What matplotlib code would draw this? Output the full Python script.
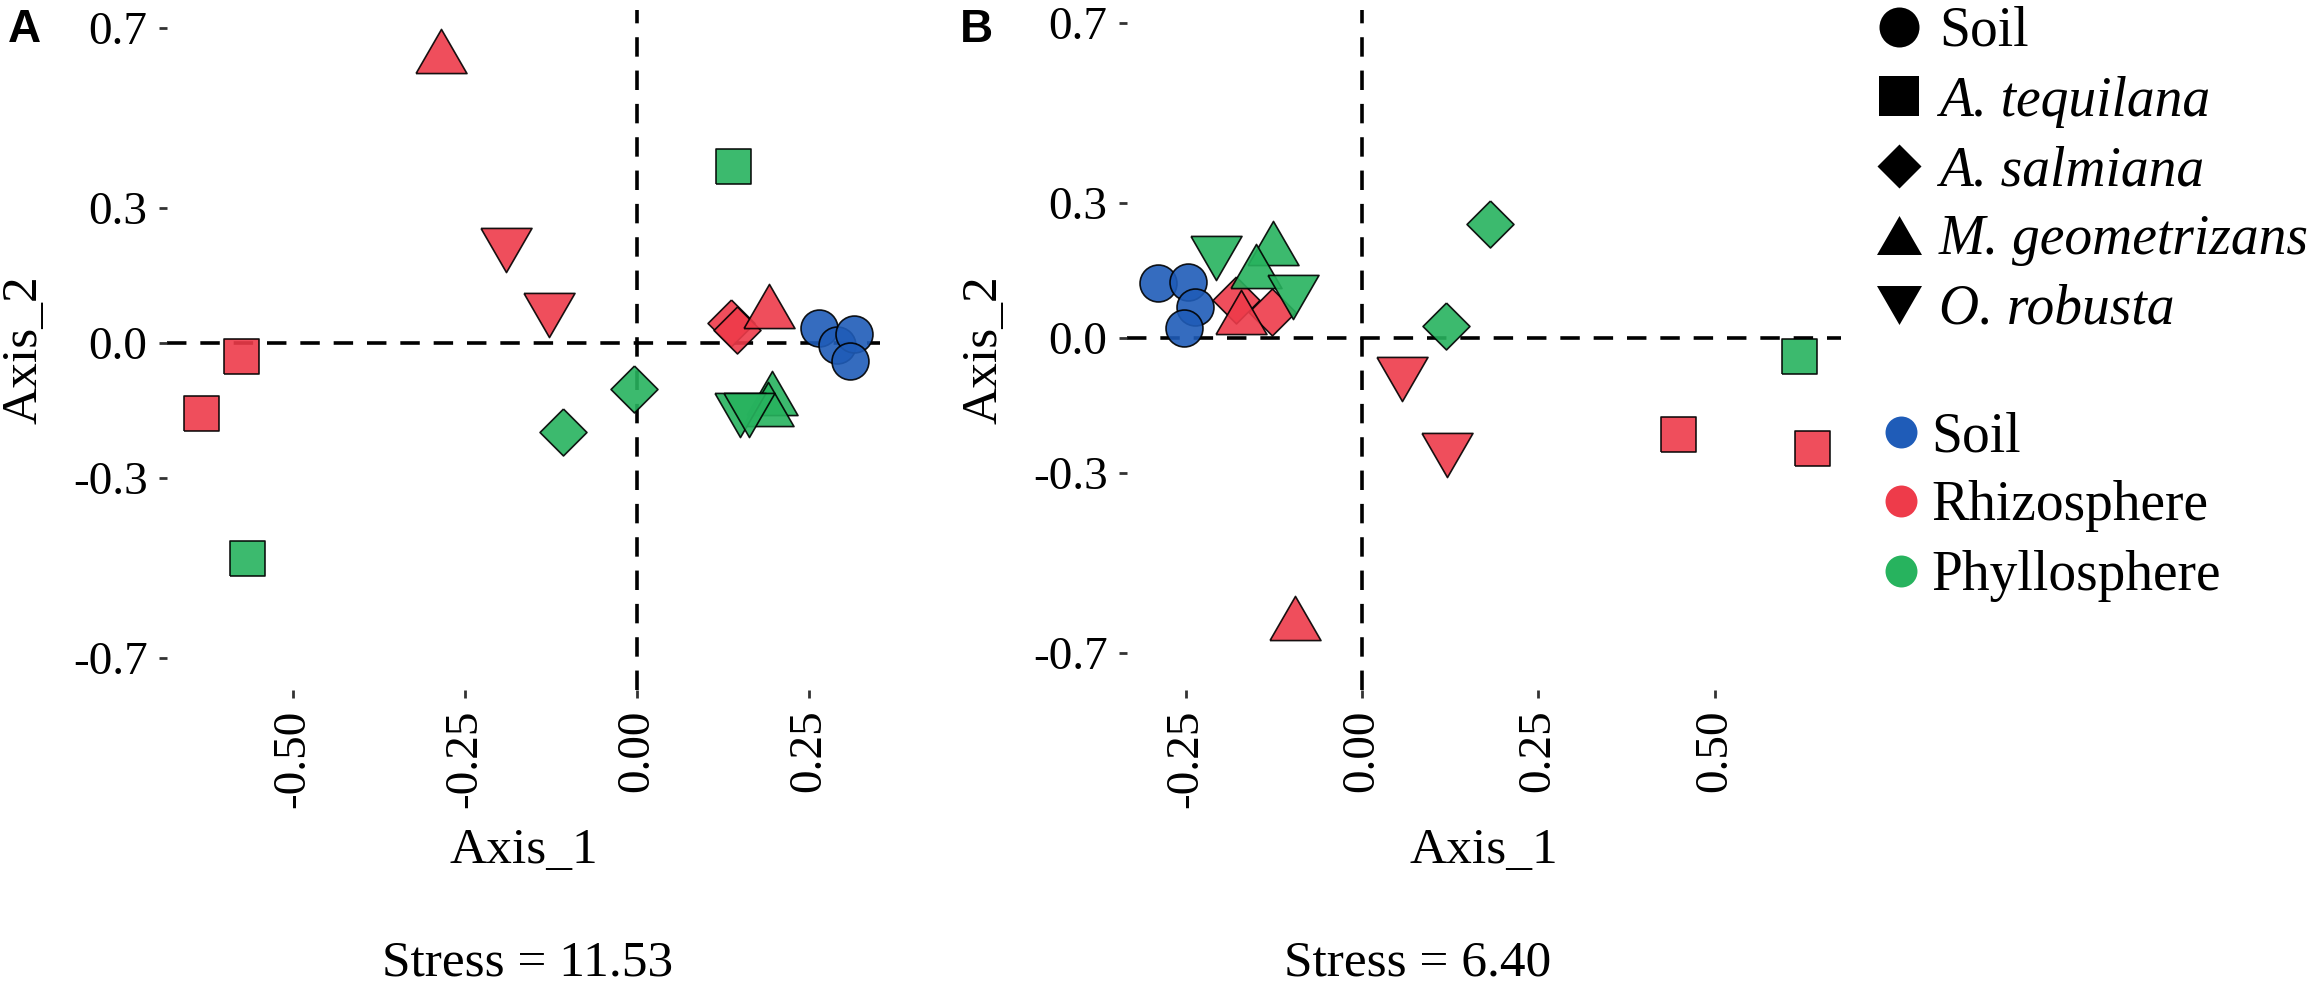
import matplotlib
matplotlib.use('Agg')
import matplotlib.pyplot as plt
from matplotlib.lines import Line2D

plt.rcParams['font.family'] = 'Liberation Serif'
plt.rcParams['axes.unicode_minus'] = False
plt.rcParams['lines.scale_dashes'] = False

species = ['Soil', 'A. tequilana', 'A. salmiana', 'M. geometrizans', 'O. robusta']
niches = ['Soil', 'Rhizosphere', 'Phyllosphere']
niche_colors = {'Soil': '#1f5cb8', 'Rhizosphere': '#ee3b4a', 'Phyllosphere': '#27b35e'}

# panel A, NMDS coordinates
a_species = ['Soil', 'Soil', 'Soil', 'Soil',
             'A. tequilana', 'A. tequilana', 'A. tequilana', 'A. tequilana',
             'A. salmiana', 'A. salmiana', 'A. salmiana', 'A. salmiana',
             'M. geometrizans', 'M. geometrizans', 'M. geometrizans', 'M. geometrizans',
             'O. robusta', 'O. robusta', 'O. robusta', 'O. robusta']
a_niche = ['Soil', 'Soil', 'Soil', 'Soil',
           'Rhizosphere', 'Rhizosphere', 'Phyllosphere', 'Phyllosphere',
           'Rhizosphere', 'Rhizosphere', 'Phyllosphere', 'Phyllosphere',
           'Rhizosphere', 'Rhizosphere', 'Phyllosphere', 'Phyllosphere',
           'Rhizosphere', 'Rhizosphere', 'Phyllosphere', 'Phyllosphere']
a_x = [0.265, 0.290, 0.315, 0.310,
       -0.576, -0.634, -0.567, 0.140,
       0.137, 0.145, -0.107, -0.004,
       -0.285, 0.192, 0.196, 0.190,
       -0.190, -0.128, 0.150, 0.163]
a_y = [0.033, -0.005, 0.020, -0.040,
       -0.029, -0.156, -0.478, 0.393,
       0.045, 0.030, -0.197, -0.102,
       0.649, 0.083, -0.111, -0.135,
       0.207, 0.062, -0.160, -0.160]

# panel B
b_species = ['Soil', 'Soil', 'Soil', 'Soil',
             'A. tequilana', 'A. tequilana', 'A. tequilana',
             'A. salmiana', 'A. salmiana', 'A. salmiana', 'A. salmiana',
             'M. geometrizans', 'M. geometrizans', 'M. geometrizans', 'M. geometrizans',
             'O. robusta', 'O. robusta', 'O. robusta', 'O. robusta']
b_niche = ['Soil', 'Soil', 'Soil', 'Soil',
           'Rhizosphere', 'Rhizosphere', 'Phyllosphere',
           'Rhizosphere', 'Rhizosphere', 'Phyllosphere', 'Phyllosphere',
           'Rhizosphere', 'Rhizosphere', 'Phyllosphere', 'Phyllosphere',
           'Rhizosphere', 'Rhizosphere', 'Phyllosphere', 'Phyllosphere']
b_x = [-0.289, -0.247, -0.237, -0.252,
       0.448, 0.638, 0.620,
       -0.178, -0.128, 0.182, 0.119,
       -0.172, -0.095, -0.126, -0.150,
       0.057, 0.121, -0.207, -0.098]
b_y = [0.122, 0.124, 0.069, 0.022,
       -0.214, -0.245, -0.040,
       0.084, 0.058, 0.253, 0.027,
       0.058, -0.622, 0.211, 0.160,
       -0.090, -0.259, 0.178, 0.091]

a_xticks = [-0.50, -0.25, 0.00, 0.25]
b_xticks = [-0.25, 0.00, 0.25, 0.50]
yticks = [-0.7, -0.3, 0.0, 0.3, 0.7]

# marker shapes (custom paths get scaled so the widest extent = size)
shapes = {
    'Soil': 'o',
    'A. tequilana': [(-1, -1), (1, -1), (1, 1), (-1, 1), (-1, -1)],
    'A. salmiana': [(0, 1), (1, 0), (0, -1), (-1, 0), (0, 1)],
    'M. geometrizans': [(-1, -0.866), (1, -0.866), (0, 0.866), (-1, -0.866)],
    'O. robusta': [(-1, 0.866), (1, 0.866), (0, -0.866), (-1, 0.866)],
}
sizes = {'Soil': 26.6, 'A. tequilana': 25.2, 'A. salmiana': 33.8,
         'M. geometrizans': 36.7, 'O. robusta': 36.7}


def draw_panel(ax, xs, ys, sp, nc, xticks, xlim, ylim):
    ax.axhline(0, color='black', lw=2.6, ls=(0, (14, 10)), zorder=1)
    ax.axvline(0, color='black', lw=2.6, ls=(0, (14, 10)), zorder=1)
    for s in species:
        for n in niches:
            px = [x for x, a, b in zip(xs, sp, nc) if a == s and b == n]
            py = [y for y, a, b in zip(ys, sp, nc) if a == s and b == n]
            if px:
                ax.scatter(px, py, s=sizes[s] ** 2, marker=shapes[s],
                           c=niche_colors[n], edgecolors='black',
                           linewidths=1.2, alpha=0.9, zorder=3)
    ax.set_xlim(xlim)
    ax.set_ylim(ylim)
    for sp_ in ax.spines.values():
        sp_.set_visible(False)
    ax.set_xticks(xticks)
    ax.set_xticklabels([f'{t:.2f}' for t in xticks], rotation=90)
    ax.set_yticks(yticks)
    ax.set_yticklabels([f'{t:.1f}' for t in yticks])
    ax.tick_params(length=6, width=2, pad=8, labelsize=34, color='#333333')
    ax.set_xlabel('Axis_1', fontsize=37)
    ax.set_ylabel('Axis_2', fontsize=37)
    ax.xaxis.label.set_va('center')
    ax.yaxis.label.set_va('center')
    ax.xaxis.set_label_coords(0.5, -0.237)
    ax.yaxis.set_label_coords(-0.20, 0.5)


fig = plt.figure(figsize=(23.17, 9.85), dpi=100)
axA = fig.add_axes([167 / 2317, 1 - 690 / 985, 713 / 2317, 680 / 985])
axB = fig.add_axes([1127 / 2317, 1 - 690 / 985, 714 / 2317, 680 / 985])

draw_panel(axA, a_x, a_y, a_species, a_niche, a_xticks, (-0.683, 0.353), (-0.771, 0.74))
draw_panel(axB, b_x, b_y, b_species, b_niche, b_xticks, (-0.333, 0.679), (-0.782, 0.729))

fig.text(528 / 2317, 1 - 963 / 985, 'Stress = 11.53', ha='center', va='center', fontsize=37)
fig.text(1418 / 2317, 1 - 963 / 985, 'Stress = 6.40', ha='center', va='center', fontsize=37)
fig.text(8 / 2317, 1 - 8 / 985, 'A', ha='left', va='top', fontsize=33,
         fontweight='bold', family='Liberation Sans')
fig.text(960 / 2317, 1 - 8 / 985, 'B', ha='left', va='top', fontsize=33,
         fontweight='bold', family='Liberation Sans')

# shape legend
leg_sizes = {'Soil': 28.8, 'A. tequilana': 28.8, 'A. salmiana': 31.7,
             'M. geometrizans': 32.4, 'O. robusta': 32.4}
h1 = [Line2D([], [], ls='', marker=shapes[s], color='black', markeredgewidth=0,
             markersize=leg_sizes[s]) for s in species]
leg1 = fig.legend(h1, species, loc='upper left', bbox_to_anchor=(1878 / 2317, 1 - 6 / 985),
                  frameon=False, fontsize=40, handlelength=0.75, handletextpad=0.35,
                  labelspacing=0.315, borderpad=0, borderaxespad=0)
for t in leg1.get_texts()[1:]:
    t.set_fontstyle('italic')

# colour legend
h2 = [Line2D([], [], ls='', marker='o', color=niche_colors[n], markeredgewidth=0,
             markersize=23) for n in niches]
fig.legend(h2, niches, loc='upper left', bbox_to_anchor=(1880 / 2317, 1 - 411 / 985),
           frameon=False, fontsize=40, handlelength=0.75, handletextpad=0.17,
           labelspacing=0.315, borderpad=0, borderaxespad=0)

fig.savefig('out.png', dpi=100)
